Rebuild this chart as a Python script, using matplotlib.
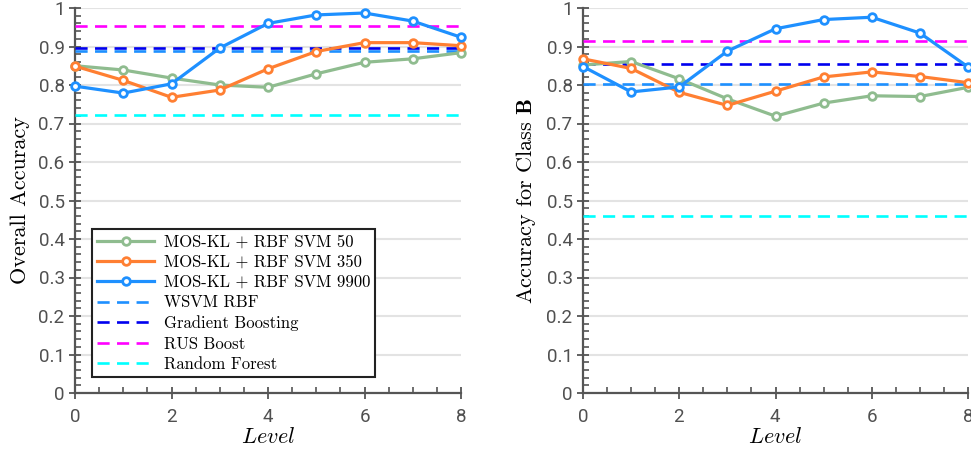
import matplotlib
matplotlib.use("Agg")
import matplotlib.pyplot as plt
from matplotlib.ticker import MultipleLocator
from matplotlib import font_manager

levels = [0, 1, 2, 3, 4, 5, 6, 7, 8]

# Left: overall accuracy
overall_50 = [0.850, 0.839, 0.818, 0.800, 0.794, 0.829, 0.859, 0.868, 0.884]
overall_350 = [0.849, 0.812, 0.768, 0.787, 0.842, 0.887, 0.910, 0.910, 0.902]
overall_9900 = [0.797, 0.779, 0.803, 0.896, 0.960, 0.982, 0.987, 0.966, 0.924]
overall_wsvm = 0.889
overall_gb = 0.895
overall_rus = 0.953
overall_rf = 0.723

# Right: accuracy for class B
classb_50 = [0.852, 0.861, 0.816, 0.764, 0.719, 0.753, 0.772, 0.770, 0.794]
classb_350 = [0.868, 0.843, 0.781, 0.747, 0.784, 0.821, 0.834, 0.822, 0.806]
classb_9900 = [0.848, 0.782, 0.795, 0.888, 0.946, 0.970, 0.976, 0.935, 0.847]
classb_wsvm = 0.802
classb_gb = 0.854
classb_rus = 0.915
classb_rf = 0.461

series_labels = ["MOS-KL + RBF SVM 50", "MOS-KL + RBF SVM 350", "MOS-KL + RBF SVM 9900"]
baseline_labels = ["WSVM RBF", "Gradient Boosting", "RUS Boost", "Random Forest"]

series_colors = ["#8fbc8f", "#ff7f32", "#1e90ff"]
baseline_colors = ["#1e90ff", "#0000ee", "#ff00ff", "#00ffff"]

available = {f.name for f in font_manager.fontManager.ttflist}
tick_family = "Roboto" if "Roboto" in available else "DejaVu Sans"

plt.rcParams["mathtext.fontset"] = "cm"
plt.rcParams["axes.formatter.use_mathtext"] = True

fig = plt.figure(figsize=(9.71, 4.55), dpi=100)
W, H = 971, 455
ax1 = fig.add_axes([75 / W, 1 - 393 / H, 386 / W, 385 / H])
ax2 = fig.add_axes([583 / W, 1 - 393 / H, 385 / W, 385 / H])

spine_col = "#555555"


def style(ax):
    ax.set_xlim(0, 8)
    ax.set_ylim(0, 1)
    ax.xaxis.set_major_locator(MultipleLocator(2))
    ax.xaxis.set_minor_locator(MultipleLocator(0.5))
    ax.yaxis.set_minor_locator(MultipleLocator(0.02))
    for s in ["top", "right"]:
        ax.spines[s].set_visible(False)
    for s in ["left", "bottom"]:
        ax.spines[s].set_color(spine_col)
        ax.spines[s].set_linewidth(1.6)
    ax.tick_params(which="major", direction="inout", length=9, width=1.3, color=spine_col,
                   labelsize=13.5, labelcolor="#505050")
    ax.tick_params(which="minor", direction="in", length=4, width=1.2, color=spine_col)
    ax.tick_params(axis="x", which="major", pad=6)
    ax.tick_params(axis="y", which="major", pad=3)
    ax.yaxis.grid(True, which="major", color="#e3e3e3", lw=1.5)
    ax.set_axisbelow(True)
    ax.set_yticks([0, 0.1, 0.2, 0.3, 0.4, 0.5, 0.6, 0.7, 0.8, 0.9, 1.0])
    ax.set_yticklabels(["0", "0.1", "0.2", "0.3", "0.4", "0.5", "0.6", "0.7", "0.8", "0.9", "1"])
    for lab in ax.get_xticklabels() + ax.get_yticklabels():
        lab.set_family(tick_family)
    ax.set_xlabel(r"$Level$", fontsize=16, labelpad=1)


def draw(ax, ys, bases):
    for y, lab, c in zip(ys, series_labels, series_colors):
        ax.plot(levels, y, color=c, lw=2.3, marker="o", ms=5.5, mfc="white",
                mec=c, mew=2.0, label=lab, clip_on=False, zorder=4)
    for b, lab, c in zip(bases, baseline_labels, baseline_colors):
        ax.axhline(b, color=c, lw=1.9, dashes=(4.6, 2.8), label=lab, zorder=3)


draw(ax1, [overall_50, overall_350, overall_9900],
     [overall_wsvm, overall_gb, overall_rus, overall_rf])
draw(ax2, [classb_50, classb_350, classb_9900],
     [classb_wsvm, classb_gb, classb_rus, classb_rf])
style(ax1)
style(ax2)

ax1.set_ylabel("Overall Accuracy", family="cmr10", fontsize=16, labelpad=6)
ax2.set_ylabel(r"Accuracy for Class $\mathbf{B}$", family="cmr10", fontsize=16, labelpad=6)

leg = ax1.legend(loc="lower left", bbox_to_anchor=(0.045, 0.042), prop={"family": "cmr10", "size": 12.0},
                 frameon=True, fancybox=False, edgecolor="#222222", framealpha=1,
                 handlelength=3.4, handletextpad=0.6, borderpad=0.3, labelspacing=0.3,
                 borderaxespad=0.0, markerfirst=True)
leg.get_frame().set_linewidth(1.5)

fig.savefig("out.png", dpi=100)
